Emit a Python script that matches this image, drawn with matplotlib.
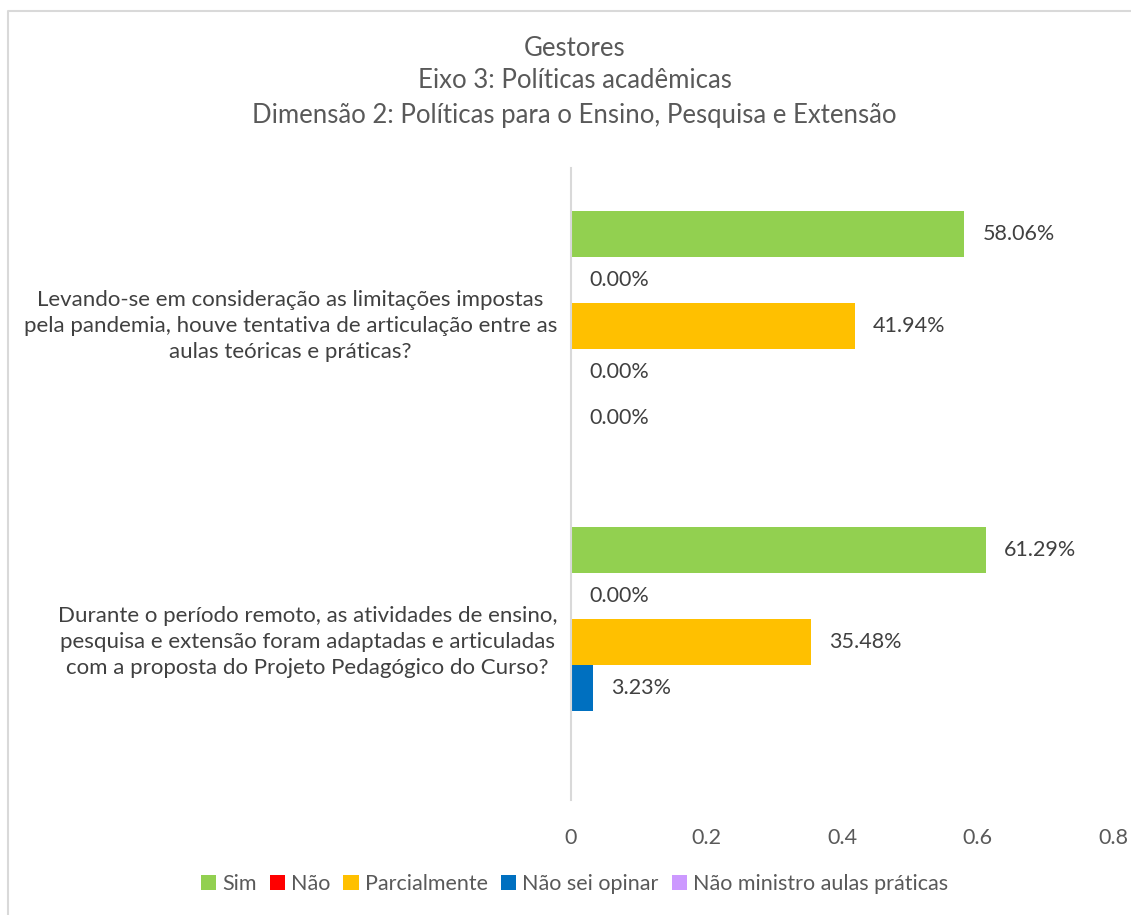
import numpy as np
import matplotlib.pyplot as plt
from matplotlib.lines import Line2D

plt.rcParams['font.family'] = ['Lato', 'DejaVu Sans']

# ========== 数据 ==========
questions = [
    'Durante o período remoto, as atividades de ensino,\n'
    'pesquisa e extensão foram adaptadas e articuladas\n'
    'com a proposta do Projeto Pedagógico do Curso?',
    'Levando-se em consideração as limitações impostas\n'
    'pela pandemia, houve tentativa de articulação entre as\n'
    'aulas teóricas e práticas?',
]
series = ['Sim', 'Não', 'Parcialmente', 'Não sei opinar', 'Não ministro aulas práticas']
colors = ['#92D050', '#FF0000', '#FFC000', '#0070C0', '#CC99FF']
sim = [0.6129, 0.5806]
nao = [0.0, 0.0]
parcial = [0.3548, 0.4194]
nao_sei = [0.0323, 0.0]
nao_ministro = [np.nan, 0.0]
values = [sim, nao, parcial, nao_sei, nao_ministro]

TEXT = '#595959'

fig = plt.figure(figsize=(11.31, 9.15), dpi=100)
ax = fig.add_axes([571 / 1131, 1 - 800 / 915, 542 / 1131, 632 / 915])

# 外框（截图只留下左边和上边）
x0, y0 = 7.5 / 1131, 1 - 11 / 915
fig.lines.append(Line2D([x0, x0, 1.0], [0.0, y0, y0], transform=fig.transFigure,
                        color='#d9d9d9', linewidth=1.5))

h = 46 / 316
y = np.arange(len(questions))
offsets = [2 * h, h, 0, -h, -2 * h]

for name, vals, col, off in zip(series, values, colors, offsets):
    v = np.array(vals, dtype=float)
    ax.barh(y + off, np.nan_to_num(v), height=h, color=col, label=name)
    for yi, val in zip(y + off, v):
        if np.isnan(val):
            continue
        ax.annotate(f'{val * 100:.2f}%', (val, yi), xytext=(13, 0),
                    textcoords='offset points', va='center', ha='left',
                    fontsize=15.5, color='#404040')

ax.set_xlim(0, 0.8)
ax.set_ylim(-0.5, 1.5)
ax.set_xticks([0, 0.2, 0.4, 0.6, 0.8])
ax.set_xticklabels(['0', '0.2', '0.4', '0.6', '0.8'])
ax.set_yticks([])
for s in ['top', 'right', 'bottom']:
    ax.spines[s].set_visible(False)
ax.spines['left'].set_color('#d9d9d9')
ax.spines['left'].set_linewidth(1.5)
ax.tick_params(axis='x', length=0, pad=20, labelsize=15.5, labelcolor=TEXT)

for yi, q in zip(y, questions):
    ax.text(-14 / 542 * 0.8, yi, q, ha='right', va='center', multialignment='center',
            fontsize=16, color='#404040', linespacing=1.4,
            transform=ax.transData)

fig.text(0.508, 1 - 48 / 915, 'Gestores', ha='center', va='center', fontsize=18.5, color=TEXT)
fig.text(0.508, 1 - 81 / 915, 'Eixo 3: Políticas acadêmicas', ha='center', va='center',
         fontsize=18.5, color=TEXT)
fig.text(0.508, 1 - 115 / 915, 'Dimensão 2: Políticas para o Ensino, Pesquisa e Extensão',
         ha='center', va='center', fontsize=18.5, color=TEXT)

fig.legend(loc='center', bbox_to_anchor=(0.508, 1 - 884 / 915), ncol=5, frameon=False,
           fontsize=15.5, handlelength=0.7, handleheight=0.7, handletextpad=0.3,
           columnspacing=0.6, labelcolor=TEXT)

fig.savefig('out.png', dpi=100, facecolor='white')
